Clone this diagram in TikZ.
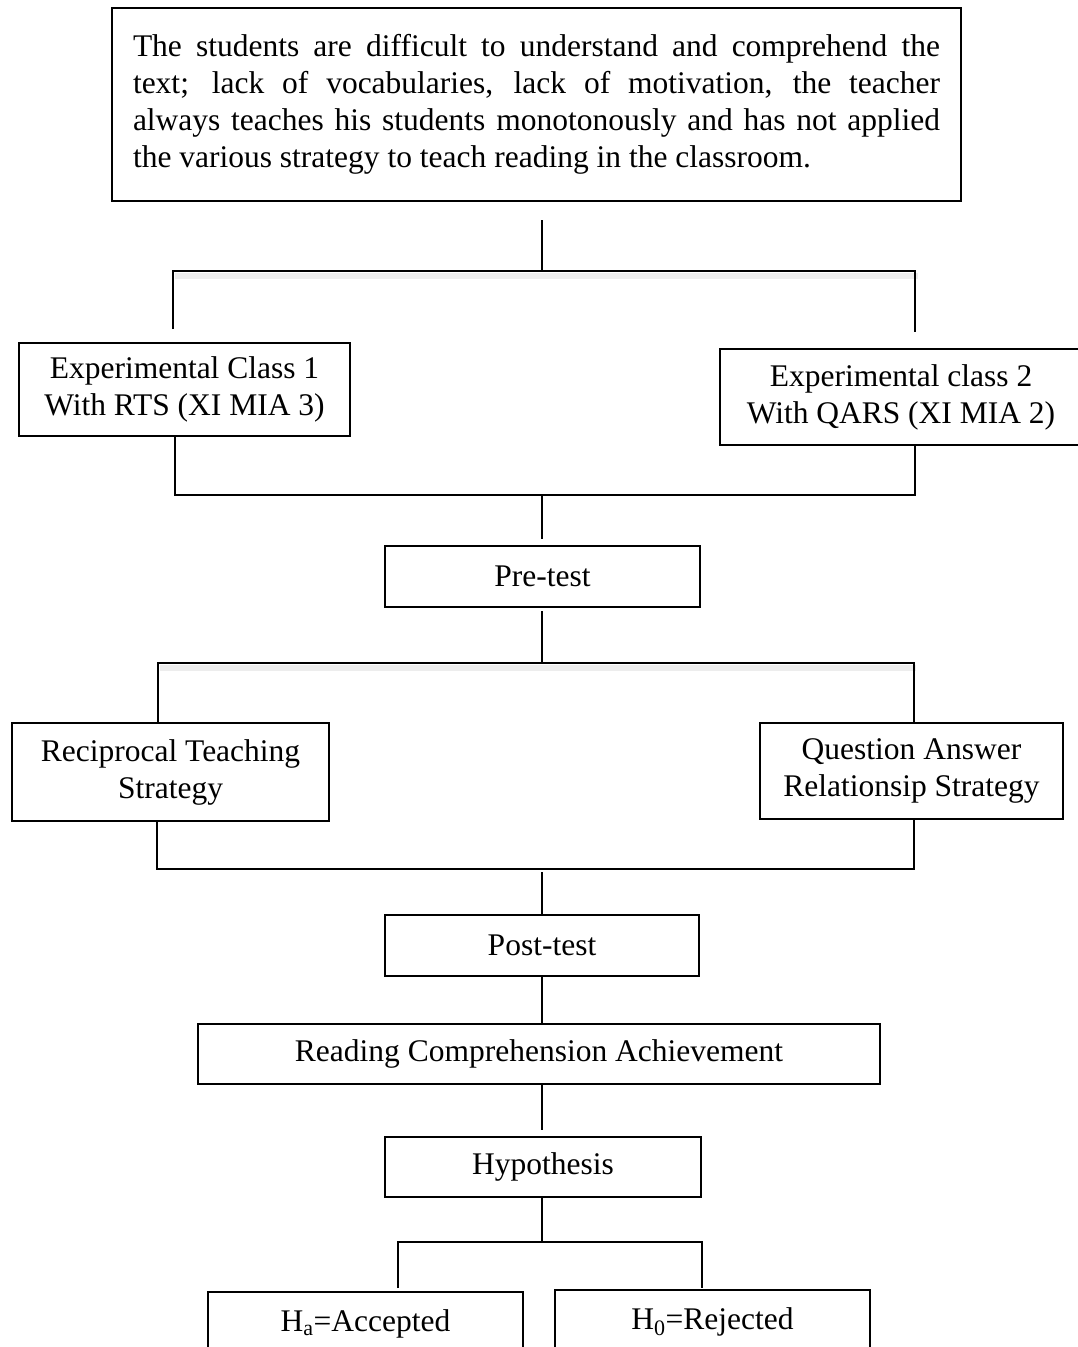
\documentclass[tikz,border=0pt]{standalone}
\usepackage{fontspec}
\setmainfont{Liberation Serif}
\usetikzlibrary{calc}
\begin{document}
\begin{tikzpicture}[x=1pt,y=-1pt,
  box/.style={draw, line width=1.6pt, inner sep=0pt, align=center,
    font=\fontsize{31.5}{37}\selectfont},
  conn/.style={line width=1.6pt},
  band/.style={fill=black!7, draw=none}]
\useasboundingbox (0,0) rectangle (1078,1347);

% boxes
\node[box, minimum width=849pt, minimum height=193pt, text width=807pt, align=justify] (top) at (536.5,104.5)
 {\hyphenpenalty=10000 The students are difficult to understand and comprehend the\linebreak
  text; lack of vocabularies, lack of motivation, the teacher\linebreak
  always teaches his students monotonously and has not applied\linebreak
  the various strategy to teach reading in the classroom.};
\node[box, minimum width=331pt, minimum height=93pt] (ec1) at (184.5,389.5) {Experimental Class 1\\With RTS (XI MIA 3)};
\node[box, minimum width=362pt, minimum height=96pt] (ec2) at (901,397) {Experimental class 2\\With QARS (XI MIA 2)};
\node[box, minimum width=315pt, minimum height=61pt] (pre) at (542.5,576.5) {Pre-test};
\node[box, minimum width=317pt, minimum height=98pt] (rts) at (170.5,772) {Reciprocal Teaching\\Strategy};
\node[box, minimum width=303pt, minimum height=96pt] (qar) at (911.5,771) {Question Answer\\Relationsip Strategy};
\node[box, minimum width=314pt, minimum height=61pt] (post) at (542,945.5) {Post-test};
\node[box, minimum width=682pt, minimum height=60pt] (rca) at (539,1054) {Reading Comprehension Achievement};
\node[box, minimum width=316pt, minimum height=60pt] (hyp) at (543,1167) {Hypothesis};
\node[box, minimum width=315pt, minimum height=64pt] (ha) at (365.5,1324) {H\textsubscript{a}=Accepted};
\node[box, minimum width=315pt, minimum height=64pt] (h0) at (712.5,1322) {H\textsubscript{0}=Rejected};

% junction coordinates
\coordinate (t1) at (542,220);
\coordinate (j1) at (542,271);
\coordinate (l1) at (173,329);
\coordinate (r1) at (915,332);
\coordinate (j2) at (542,495);
\coordinate (p1) at (542,539);
\coordinate (p2) at (542,611);
\coordinate (j3) at (542,663);
\coordinate (j4) at (542,872);
\coordinate (hb) at (542,1242);
\coordinate (l5) at (398,1288);
\coordinate (r5) at (702,1288);

% grey bands under split lines
\fill[band] (175,273) rectangle (918,279);
\fill[band] (160,665) rectangle (916,671);

% connectors
\draw[conn] (t1) -- (j1);
\draw[conn] (l1) -- (173,271) -- (915,271) -- (r1);

\draw[conn] (ec1.south -| 175,0) -- (175,495) -- (915,495) -- (ec2.south -| 915,0);
\draw[conn] (j2) -- (p1);
\draw[conn] (p2) -- (j3);
\draw[conn] (rts.north -| 158,0) -- (158,663) -- (914,663) -- (qar.north -| 914,0);
\draw[conn] (rts.south -| 157,0) -- (157,869) -- (914,869) -- (qar.south -| 914,0);
\draw[conn] (j4) -- (post.north -| 542,0);
\draw[conn] (post.south -| 542,0) -- (rca.north -| 542,0);
\draw[conn] (rca.south -| 542,0) -- (542,1130);
\draw[conn] (hyp.south -| 542,0) -- (hb);
\draw[conn] (l5) -- (398,1242) -- (702,1242) -- (r5);
\end{tikzpicture}
\end{document}
